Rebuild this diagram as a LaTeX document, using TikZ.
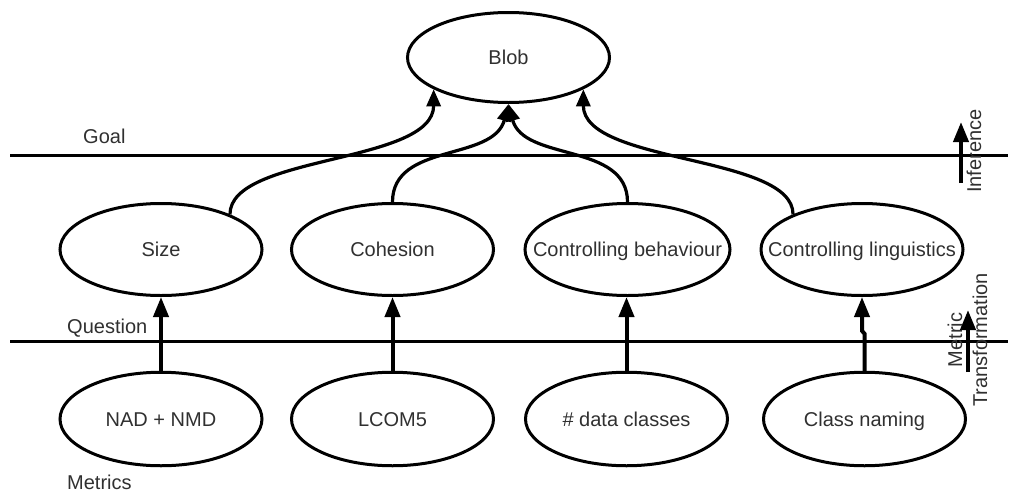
\documentclass[tikz,border=0pt]{standalone}
\usepackage{fontspec}
\setmainfont{Liberation Sans}
\usetikzlibrary{shapes.geometric,arrows.meta}
\definecolor{labelgray}{HTML}{303030}
% zero-width box so the ellipse size does not depend on the text
\newcommand{\ztxt}[1]{\makebox[0pt][c]{#1}}

\begin{document}
\begin{tikzpicture}[x=1pt,y=-1pt,
  every node/.style={text=labelgray, font=\fontsize{20}{25}\selectfont},
  concept/.style={ellipse, draw=black, line width=3pt, minimum width=202pt,
    minimum height=92pt, inner sep=0pt, text height=14pt, text depth=0pt},
  level/.style={draw=black, line width=3pt},
  up/.style={draw=black, line width=4pt, -{Triangle[length=20pt,width=15pt]}},
  infer/.style={draw=black, line width=3.2pt, -{Triangle[length=17pt,width=14pt]}},
  tag/.style={anchor=base west, inner sep=0pt},
]
\useasboundingbox (0,0) rectangle (1009,493);

% level separators
\coordinate (goalL) at (10,155);
\coordinate (goalR) at (1008,155);
\coordinate (questL) at (10,341);
\coordinate (questR) at (1008,341);
\draw[level] (goalL) -- (goalR);
\draw[level] (questL) -- (questR);

% level names
\node[tag] (goal) at (83,143) {Goal};
\node[tag] (quest) at (67,333) {Question};
\node[tag] (metrics) at (67,489) {Metrics};

% goal
\node[concept, minimum height=90pt] (blob) at (508.5,57.5) {\ztxt{Blob}};

% questions
\node[concept] (size) at (161,249.5) {\ztxt{Size}};
\node[concept] (coh)  at (392.5,249.5) {\ztxt{Cohesion}};
\node[concept, minimum width=205pt] (beh)  at (627.5,249.5) {\ztxt{Controlling behaviour}};
\node[concept] (ling) at (862,249.5) {\ztxt{Controlling linguistics}};

% metrics
\node[concept, minimum height=93.5pt] (nad)  at (161,419) {\ztxt{NAD + NMD}};
\node[concept, minimum height=93.5pt] (lcom) at (392.5,419) {\ztxt{LCOM5}};
\node[concept, minimum height=93.5pt] (dc)   at (626.5,419) {\ztxt{\# data classes}};
\node[concept, minimum height=93.5pt] (cn)   at (864.5,419) {\ztxt{Class naming}};

% metric -> question
\draw[up] (nad) -- (size);
\draw[up] (lcom) -- (coh);
\draw[up] (dc.north) -- (dc.north |- beh.south);
\draw[up] (cn.north) -- ++(0,-37) -- ++(-2.5,-3) -- (ling.south);

% question -> goal
\draw[infer] (size.27) .. controls +(0,-60) and +(0,75) .. (blob.203);
\draw[infer] (coh.north) .. controls +(0,-60) and +(-15,58) .. (blob.south);
\draw[infer] (beh.north) .. controls +(0,-60) and +(15,58) .. (blob.south);
\draw[infer] (ling.153) .. controls +(0,-60) and +(0,75) .. (blob.337);

% direction markers
\coordinate (infS) at (961,183);
\coordinate (infE) at (961,122);
\draw[up] (infS) -- (infE);
\node[rotate=90, inner sep=0pt] (inf) at (974,151) {Inference};

\coordinate (mtS) at (968,372);
\coordinate (mtE) at (968,310);
\draw[up] (mtS) -- (mtE);
\node[rotate=90, align=center, inner sep=0pt] (mt) at (967.5,340) {Metric\\Transformation};
\end{tikzpicture}
\end{document}
